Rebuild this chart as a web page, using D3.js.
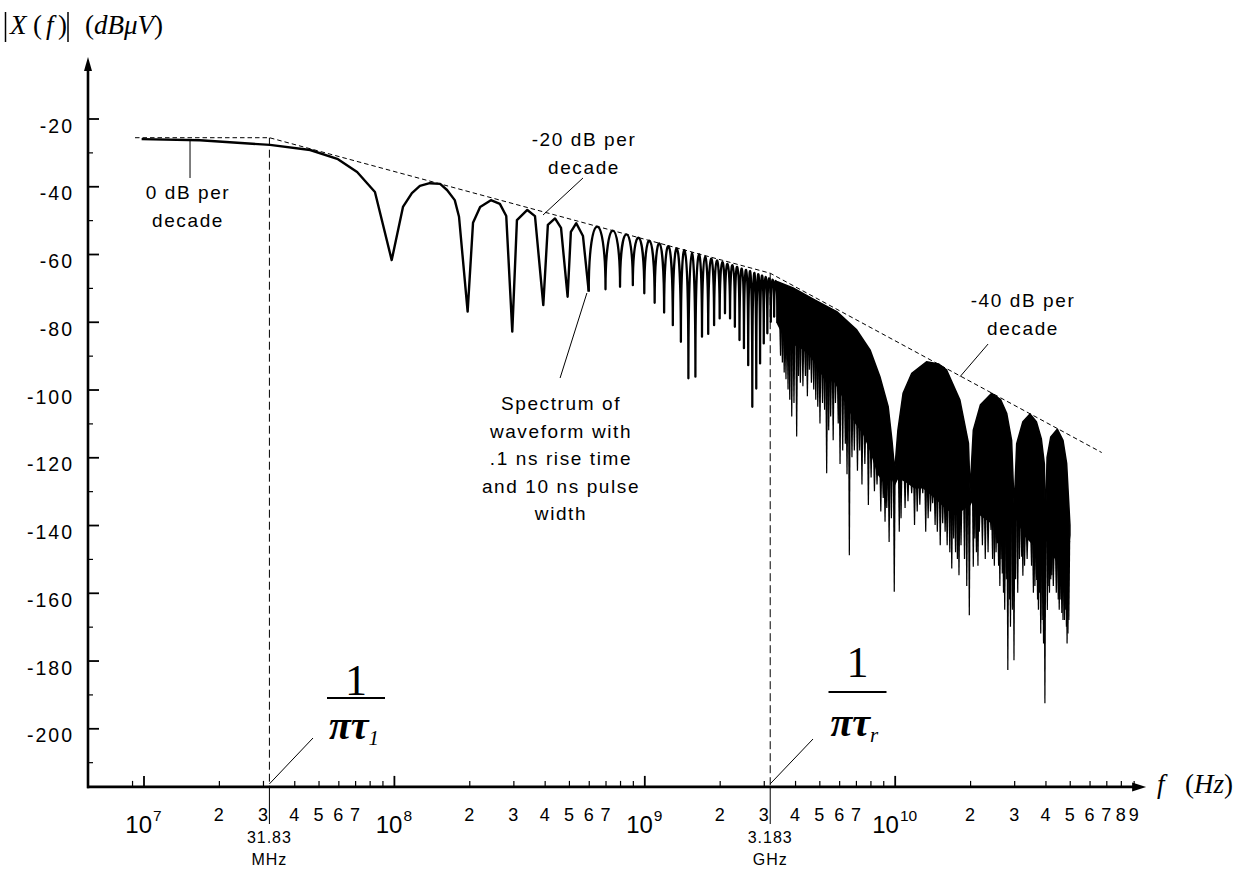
<!DOCTYPE html>
<html><head><meta charset="utf-8">
<script src="https://cdn.jsdelivr.net/npm/d3@7"></script>
<style>
html,body{margin:0;padding:0;background:#fff;}
svg{display:block;}
text{font-family:"Liberation Sans",Arial,Helvetica,sans-serif;fill:#000;}
.serif{font-family:"Liberation Serif","Times New Roman",serif;}
</style></head><body>
<svg id="chart" width="1244" height="872"></svg>
<script>
// ---------------- DATA ----------------
const yTickValues  = [-20,-40,-60,-80,-100,-120,-140,-160,-180,-200];
const yMinorValues = [-30,-50,-70,-90,-110,-130,-150,-170,-190,-210];
const xMajorTicks  = [1e7,1e8,1e9,1e10];
const xMajorExp    = ["7","8","9","10"];
const xMinorTicks  = [9e6,2e7,3e7,4e7,5e7,6e7,7e7,8e7,9e7,2e8,3e8,4e8,5e8,6e8,7e8,8e8,9e8,
                      2e9,3e9,4e9,5e9,6e9,7e9,8e9,9e9,2e10,3e10,4e10,5e10,6e10,7e10,8e10,9e10];
const xMinorLabelTicks = [2e7,3e7,4e7,5e7,6e7,7e7,2e8,3e8,4e8,5e8,6e8,7e8,2e9,3e9,4e9,5e9,6e9,7e9,
                      2e10,3e10,4e10,5e10,6e10,7e10,8e10,9e10];
const breakFreqs   = [3.183e7, 3.183e9];
const breakLabels  = [["31.83","MHz"],["3.183","GHz"]];

// asymptotes (0, -20, -40 dB/decade)
const asymptote = [[9.25e6,-25.67],[3.183e7,-25.67],[3.183e9,-65.67],[6.71e10,-118.6]];

// resolved low-frequency part of the spectrum [f (Hz), dB]
const lowCurve = [
 [9.83e6,-26.1],[1.68e7,-26.4],[3.2e7,-27.8],[4.63e7,-29.3],[5.98e7,-32.0],[7.13e7,-35.8],
 [8.4e7,-41.7],[9.8e7,-61.8],[1.087e8,-46.1],[1.18e8,-42.0],[1.27e8,-39.9],[1.39e8,-39.1],
 [1.53e8,-39.3],[1.63e8,-41.1],[1.75e8,-44.1],[1.82e8,-49.0],[1.97e8,-77.0],[2.07e8,-50.8],
 [2.21e8,-46.1],[2.44e8,-44.1],[2.65e8,-45.2],[2.81e8,-48.8],[2.97e8,-82.9],[3.1e8,-50.0],
 [3.41e8,-47.0],[3.66e8,-48.8],[3.95e8,-75.1],[4.12e8,-51.4],[4.4e8,-49.5],[4.65e8,-52.3],
 [4.94e8,-72.6],[5.09e8,-53.5],[5.35e8,-50.9],[5.69e8,-54.7],[6.0e8,-71.1]
];

// individual lobes (comb) : null frequencies, null depths, lobe peaks
const combNullF  = [6e8,7e8,8e8,9e8,1.0e9,1.1e9,1.2e9,1.3e9,1.4e9,1.5e9,1.6e9,1.7e9,1.8e9,1.9e9,
                    2.0e9,2.1e9,2.2e9,2.3e9,2.4e9,2.5e9,2.6e9,2.7e9,2.8e9,2.9e9,3.0e9,3.1e9,3.2e9,3.3e9,3.4e9];
const combNullDb = [-71.1,-70.4,-69.7,-69.2,-71.6,-74.4,-77.3,-81,-85.9,-96.7,-96.2,-84.4,-83.6,-81,
                    -79,-77.5,-79,-81.5,-85.4,-87.8,-92.8,-105.1,-99.7,-92.3,-86.4,-83.4,-80,-78.5,-80.4];
const combPeakDb = [-51.9,-53.1,-54.2,-55.2,-56.1,-56.9,-57.7,-58.4,-59.0,-59.7,-60.3,-60.8,-61.4,-61.9,
                    -62.4,-62.9,-63.3,-63.8,-64.3,-64.7,-65.2,-65.6,-66.0,-66.4,-66.8,-67.2,-67.6,-68.0];

// dense region: upper boundary and lower edge of the solid black band
const denseTop = [
 [3.4e9,-68.2],[3.93e9,-70],[4.81e9,-73.6],[5.87e9,-77],[7.05e9,-82.4],[7.97e9,-88.3],[8.73e9,-96.2],
 [9.42e9,-105.1],[9.75e9,-115],[1.0e10,-124],[1.03e10,-112],[1.08e10,-101.1],[1.17e10,-95.2],
 [1.34e10,-91.8],[1.5e10,-92.5],[1.61e10,-94.2],[1.82e10,-103],[1.97e10,-115.8],[2.0e10,-130],
 [2.06e10,-112],[2.2e10,-104.5],[2.44e10,-101.1],[2.65e10,-103],[2.8e10,-107],[2.93e10,-115],
 [3.0e10,-135],[3.07e10,-116],[3.25e10,-109.5],[3.47e10,-107.2],[3.68e10,-109.5],[3.85e10,-114.5],
 [3.96e10,-122],[4.0e10,-140],[4.06e10,-120],[4.2e10,-114],[4.46e10,-111.7],[4.7e10,-115],
 [4.86e10,-121.8],[5.01e10,-140]
];
const denseFloor = [
 [3.4e9,-80.4],[3.6e9,-84],[3.8e9,-86],[4.06e9,-87],[4.3e9,-88],[4.6e9,-90],[5.0e9,-94],[5.35e9,-98],
 [5.7e9,-97],[6.1e9,-101],[6.6e9,-106],[7.0e9,-110],[7.5e9,-113],[8.0e9,-118],[8.6e9,-125],[9.2e9,-128],
 [9.75e9,-126],[1.0e10,-128],[1.03e10,-126],[1.1e10,-127],[1.2e10,-129],[1.3e10,-129],[1.4e10,-131],
 [1.5e10,-133],[1.6e10,-135],[1.75e10,-137],[1.9e10,-135],[2.0e10,-134],[2.06e10,-132],[2.2e10,-137],
 [2.4e10,-139],[2.6e10,-141],[2.8e10,-143],[2.93e10,-140],[3.0e10,-139],[3.07e10,-138],[3.3e10,-143],
 [3.5e10,-145],[3.7e10,-147],[3.9e10,-147],[4.0e10,-144],[4.06e10,-144],[4.3e10,-149],[4.5e10,-151],
 [4.7e10,-153],[4.9e10,-151],[5.01e10,-143]
];
// deep nulls (spikes) below the solid band
const spikes = [
 [3.5e9,-90],[3.56e9,-92],[3.62e9,-95],[3.68e9,-97],[3.75e9,-100],[3.81e9,-103],[3.88e9,-108],
 [3.96e9,-104],[4.06e9,-113.9],[4.13e9,-96],[4.2e9,-98],[4.3e9,-99],[4.4e9,-96],[4.48e9,-102],
 [4.56e9,-94.2],[4.65e9,-98],[4.75e9,-100],[4.84e9,-103],[4.93e9,-105.1],[5.03e9,-110],[5.15e9,-104],
 [5.25e9,-106],[5.35e9,-124.7],[5.45e9,-112],[5.55e9,-108],[5.68e9,-115],[5.8e9,-104],[5.95e9,-110],
 [6.05e9,-122],[6.2e9,-118],[6.35e9,-116],[6.45e9,-125],[6.59e9,-148.9],[6.75e9,-120],[6.9e9,-118],
 [7.1e9,-124],[7.25e9,-118],[7.4e9,-128],[7.6e9,-122],[7.85e9,-134.1],[8.05e9,-126],[8.3e9,-130],
 [8.5e9,-128],[8.8e9,-136],[9.0e9,-132],[9.15e9,-139],[9.3e9,-135],[9.5e9,-145],[9.7e9,-138],
 [9.96e9,-159.7],[1.043e10,-142],
 [1.06e10,-138],[1.1e10,-135],[1.13e10,-133],[1.169e10,-130.6],[1.2e10,-140],[1.23e10,-136],
 [1.26e10,-134],[1.294e10,-130.6],[1.33e10,-142],[1.36e10,-138],[1.39e10,-136],[1.418e10,-133.6],
 [1.45e10,-140],[1.48e10,-142],[1.52e10,-146],[1.555e10,-139.5],[1.59e10,-142],[1.62e10,-146],
 [1.66e10,-148],[1.69e10,-152.8],[1.72e10,-144],[1.75e10,-148],[1.78e10,-150],[1.806e10,-154.8],
 [1.84e10,-146],[1.9e10,-150],[1.94e10,-158],[1.986e10,-166.6],
 [2.06e10,-152.3],[2.09e10,-144],[2.12e10,-148],[2.15e10,-152],[2.177e10,-142],[2.24e10,-146],
 [2.3e10,-150],[2.36e10,-148],[2.425e10,-141.5],[2.46e10,-150],[2.5e10,-152],[2.54e10,-148],
 [2.57e10,-145.4],[2.6e10,-152],[2.63e10,-158],[2.66e10,-150],[2.69e10,-154.3],[2.72e10,-160],
 [2.75e10,-165],[2.79e10,-156],[2.83e10,-182.8],[2.87e10,-162],[2.9e10,-170],[2.95e10,-165],
 [2.995e10,-179.9],
 [3.04e10,-156],[3.1e10,-160],[3.15e10,-150],[3.216e10,-149.4],[3.25e10,-155],[3.3e10,-152],
 [3.38e10,-150],[3.47e10,-144.4],[3.52e10,-152],[3.58e10,-160],[3.63e10,-158],[3.69e10,-156.2],
 [3.72e10,-162],[3.75e10,-165],[3.79e10,-160],[3.83e10,-172],[3.88e10,-168],[3.93e10,-175],
 [3.98e10,-192.6],
 [4.07e10,-165.1],[4.1e10,-158],[4.15e10,-160],[4.2e10,-156],[4.24e10,-154.8],[4.3e10,-158],
 [4.37e10,-149.4],[4.42e10,-160],[4.5e10,-162],[4.54e10,-165],[4.57e10,-158],[4.61e10,-162],
 [4.65e10,-166],[4.7e10,-168],[4.76e10,-168],[4.8e10,-165],[4.85e10,-170],[4.88e10,-175],
 [4.92e10,-172],[4.96e10,-168]
];

// annotation leaders [from, to] in data units
const leaders = [
 [[1.534e7,-26.35],[1.534e7,-37.56]],
 [[3.94e8,-48.49],[5.69e8,-37.56]],
 [[1.823e10,-96.22],[2.36e10,-86.57]],
 [[5.90e8,-71.51],[4.61e8,-96.6]]
];

// ---------------- DRAWING ----------------
const svg = d3.select("#chart");
const x = d3.scaleLog().domain([1e7,1e11]).range([143.5,1145.1]);
const y = d3.scaleLinear().domain([-20,-217.3]).range([118.5,786.9]);
const yAxisX = 88;
const axisY = y(-217.3);

const line = d3.line().x(d=>x(d[0])).y(d=>y(d[1]));

// dashed asymptotes
svg.append("path").attr("d", line(asymptote))
  .attr("fill","none").attr("stroke","#000").attr("stroke-width",1)
  .attr("stroke-dasharray","4.5,3");
// vertical dashed break lines
svg.selectAll(".vbreak").data(breakFreqs).join("line")
  .attr("x1",d=>x(d)).attr("x2",d=>x(d))
  .attr("y1",(d,i)=>y(asymptote[i+1][1])).attr("y2",axisY)
  .attr("stroke","#000").attr("stroke-width",1).attr("stroke-dasharray","8,4");

// low frequency polyline
svg.append("path").attr("d", line(lowCurve))
  .attr("fill","none").attr("stroke","#000").attr("stroke-width",2.4)
  .attr("stroke-linejoin","round");

// comb lobes: each lobe is an arch between two nulls (vertical tangents at nulls)
let comb = `M${x(combNullF[0])},${y(combNullDb[0])}`;
for (let i=0;i<combPeakDb.length;i++){
  const x0=x(combNullF[i]), y0=y(combNullDb[i]);
  const x1=x(combNullF[i+1]), y1=y(combNullDb[i+1]);
  const yp=y(combPeakDb[i]);
  const yc=(yp-0.125*(y0+y1))/0.75;
  comb += `C${x0},${yc} ${x1},${yc} ${x1},${y1}`;
}
svg.append("path").attr("d", comb)
  .attr("fill","none").attr("stroke","#000").attr("stroke-width",2.3)
  .attr("stroke-linejoin","round");

// dense band
const bandPts = denseTop.concat(denseFloor.slice().reverse());
svg.append("path").attr("d", d3.line().x(d=>x(d[0])).y(d=>y(d[1])).curve(d3.curveLinearClosed)(bandPts))
  .attr("fill","#000").attr("stroke","#000").attr("stroke-width",1.5).attr("stroke-linejoin","round");

// spikes
const floorAt = d3.scaleLog().domain(denseFloor.map(d=>d[0])).range(denseFloor.map(d=>d[1]));
svg.selectAll(".spike").data(spikes).join("path")
  .attr("d", d=>{
    const xs=x(d[0]), yt=y(floorAt(d[0])+2), yb=y(d[1]);
    return `M${xs-1.4},${yt}L${xs+1.4},${yt}L${xs+0.6},${yb}L${xs-0.6},${yb}Z`;
  })
  .attr("fill","#000");

// ---------------- AXES ----------------
svg.append("line").attr("x1",yAxisX-1).attr("x2",x(1e11)-8).attr("y1",axisY).attr("y2",axisY)
  .attr("stroke","#000").attr("stroke-width",2.6);
svg.append("path").attr("d",`M${x(1e11)+1},${axisY}L${x(1e11)-13},${axisY-4.5}L${x(1e11)-13},${axisY+4.5}Z`).attr("fill","#000");
svg.append("line").attr("x1",yAxisX).attr("x2",yAxisX).attr("y1",axisY+1.3).attr("y2",66)
  .attr("stroke","#000").attr("stroke-width",2.6);
svg.append("path").attr("d",`M${yAxisX},57L${yAxisX-4},71L${yAxisX+4},71Z`).attr("fill","#000");

const gxMaj = svg.append("g").attr("transform",`translate(0,${axisY})`)
  .call(d3.axisBottom(x).tickValues(xMajorTicks).tickSize(-11).tickFormat(""));
const gxMin = svg.append("g").attr("transform",`translate(0,${axisY})`)
  .call(d3.axisBottom(x).tickValues(xMinorTicks).tickSize(-6).tickFormat(""));
[gxMaj,gxMin].forEach(g=>{g.select(".domain").remove();});
gxMaj.selectAll(".tick line").attr("stroke","#000").attr("stroke-width",1.8);
gxMin.selectAll(".tick line").attr("stroke","#000").attr("stroke-width",1.2);

const gyMaj = svg.append("g").attr("transform",`translate(${yAxisX},0)`)
  .call(d3.axisRight(y).tickValues(yTickValues).tickSize(11).tickFormat(""));
const gyMin = svg.append("g").attr("transform",`translate(${yAxisX},0)`)
  .call(d3.axisRight(y).tickValues(yMinorValues).tickSize(5).tickFormat(""));
[gyMaj,gyMin].forEach(g=>{g.select(".domain").remove();});
gyMaj.selectAll(".tick line").attr("stroke","#000").attr("stroke-width",1.8);
gyMin.selectAll(".tick line").attr("stroke","#000").attr("stroke-width",1.2);

svg.selectAll(".ylab").data(yTickValues).join("text")
  .attr("x",74).attr("y",d=>y(d)+14).attr("text-anchor","end")
  .attr("font-size",19.5).attr("letter-spacing",2).text(d=>d);

const xl = svg.selectAll(".xmaj").data(xMajorTicks).join("text")
  .attr("x",d=>x(d)).attr("y",833).attr("text-anchor","middle");
xl.append("tspan").attr("font-size",24).text("10");
xl.append("tspan").attr("font-size",15.5).attr("dy",-12).attr("dx",1).text((d,i)=>xMajorExp[i]);

svg.selectAll(".xmin").data(xMinorLabelTicks).join("text")
  .attr("x",d=>x(d)).attr("y",821).attr("text-anchor","middle").attr("font-size",18)
  .text(d=>Math.round(d/Math.pow(10,Math.floor(Math.log10(d)+1e-9))));

svg.selectAll(".bmark").data(breakFreqs).join("line")
  .attr("x1",d=>x(d)).attr("x2",d=>x(d)).attr("y1",axisY).attr("y2",824)
  .attr("stroke","#000").attr("stroke-width",1);
breakFreqs.forEach((f,i)=>{
  svg.append("text").attr("x",x(f)).attr("y",843).attr("text-anchor","middle")
    .attr("font-size",16).attr("letter-spacing",1).text(breakLabels[i][0]);
  svg.append("text").attr("x",x(f)).attr("y",865).attr("text-anchor","middle")
    .attr("font-size",16).attr("letter-spacing",1).text(breakLabels[i][1]);
});

function formula(cx, yOne, yBar, yPi, sub){
  svg.append("text").attr("class","serif").attr("x",cx).attr("y",yOne)
    .attr("text-anchor","middle").attr("font-size",44).text("1");
  svg.append("line").attr("x1",cx-29).attr("x2",cx+29).attr("y1",yBar).attr("y2",yBar)
    .attr("stroke","#000").attr("stroke-width",1.8);
  const t=svg.append("text").attr("class","serif").attr("x",cx-27).attr("y",yPi)
    .attr("font-size",40).attr("font-style","italic").attr("font-weight","bold");
  t.append("tspan").text("πτ");
  t.append("tspan").attr("font-size",21).attr("font-weight","normal").attr("dy",6).text(sub);
}
formula(356, 695, 698, 739, "1");
formula(857.5, 677, 692, 736, "r");
[[breakFreqs[0],313,738],[breakFreqs[1],813,739]].forEach(d=>{
  svg.append("line").attr("x1",x(d[0])).attr("y1",axisY-3).attr("x2",d[1]).attr("y2",d[2])
    .attr("stroke","#000").attr("stroke-width",1);
});

svg.selectAll(".leader").data(leaders).join("line")
  .attr("x1",d=>x(d[0][0])).attr("y1",d=>y(d[0][1]))
  .attr("x2",d=>x(d[1][0])).attr("y2",d=>y(d[1][1]))
  .attr("stroke","#000").attr("stroke-width",1);

function label(lines, cx, y0, dy){
  lines.forEach((s,i)=>{
    svg.append("text").attr("x",cx).attr("y",y0+i*dy).attr("text-anchor","middle")
      .attr("font-size",19).attr("letter-spacing",1.6).text(s);
  });
}
label(["0 dB per","decade"], 188, 199, 28);
label(["-20 dB per","decade"], 584, 146, 27.5);
label(["-40 dB per","decade"], 1023, 307, 28);
label(["Spectrum of","waveform with",".1 ns rise time","and 10 ns pulse","width"], 561, 410, 27.5);

svg.append("line").attr("x1",5.5).attr("x2",5.5).attr("y1",12).attr("y2",42).attr("stroke","#000").attr("stroke-width",1.5);
svg.append("line").attr("x1",68).attr("x2",68).attr("y1",12).attr("y2",42).attr("stroke","#000").attr("stroke-width",1.5);
const tt = svg.append("text").attr("class","serif").attr("y",34).attr("font-size",27);
tt.append("tspan").attr("x",10).attr("font-style","italic").text("X");
tt.append("tspan").attr("x",33).text("(");
tt.append("tspan").attr("x",46).attr("font-style","italic").text("f");
tt.append("tspan").attr("x",58).text(")");
const tu = svg.append("text").attr("class","serif").attr("x",85).attr("y",34).attr("font-size",27);
tu.append("tspan").text("(");
tu.append("tspan").attr("font-style","italic").text("dBμV");
tu.append("tspan").text(")");

const tf = svg.append("text").attr("class","serif").attr("y",793).attr("font-size",27);
tf.append("tspan").attr("x",1157).attr("font-style","italic").text("f");
tf.append("tspan").attr("x",1185).text("(");
tf.append("tspan").attr("font-style","italic").text("Hz");
tf.append("tspan").text(")");
</script>
</body></html>
